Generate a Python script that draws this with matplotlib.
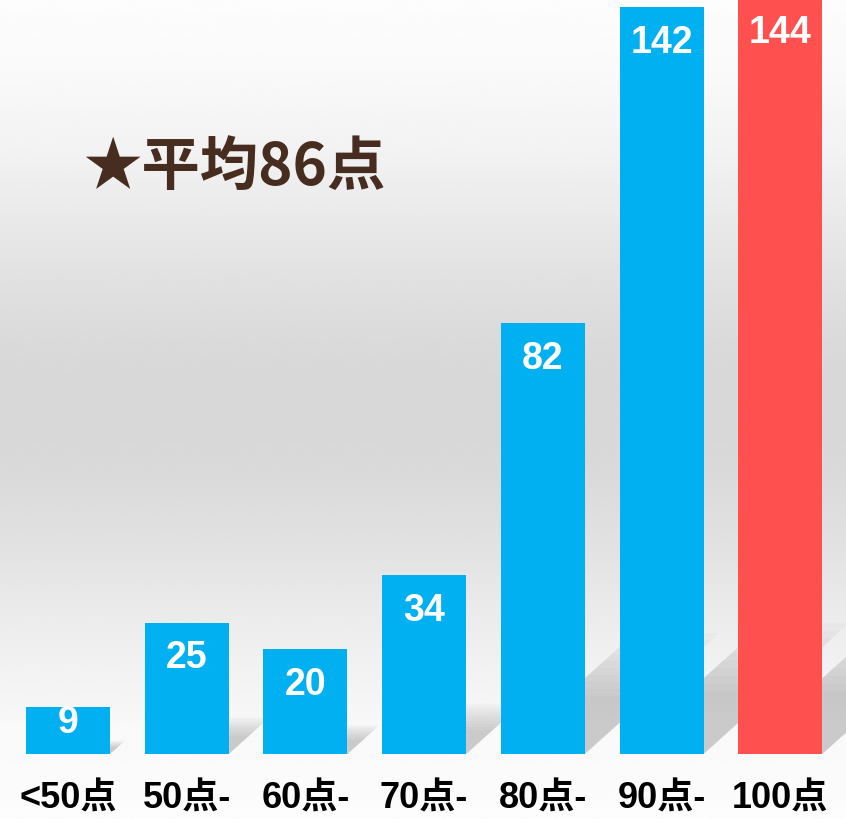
import numpy as np
import matplotlib
matplotlib.use('Agg')
import matplotlib.pyplot as plt
from matplotlib.patches import Polygon

# data
categories = ['<50点', '50点-', '60点-', '70点-', '80点-', '90点-', '100点']
counts = [9, 25, 20, 34, 82, 142, 144]
colors = ['#00b0f0'] * 6 + ['#ff5050']
title = '★平均86点'

W, H = 846, 819
fig = plt.figure(figsize=(W / 100, H / 100), dpi=100)

# background gradient: white top, grey middle, light bottom
bg = fig.add_axes([0, 0, 1, 1])
yy = np.linspace(0, 1, 400)
shade = 1 - 0.155 * np.exp(-((yy - 0.50) / 0.30) ** 2)
shade[yy > 0.88] = np.maximum(shade[yy > 0.88], 0.98)
bg.imshow(np.tile(shade[:, None], (1, 2)), cmap='gray', vmin=0, vmax=1,
          aspect='auto', extent=[0, 1, 1, 0], interpolation='bicubic')
bg.set_axis_off()

base_px = 754
px_x = 118.7   # pixels per category
px_y = 5.26    # pixels per count
ax = fig.add_axes([0, (H - base_px) / H, 1, base_px / H])
ax.patch.set_alpha(0)
x = np.arange(len(categories))
ax.set_xlim(-68 / px_x, (W - 68) / px_x)
ax.set_ylim(0, base_px / px_y)
width = 84 / px_x

# soft diagonal shadows cast up-right behind each bar
for xi, c in zip(x, counts):
    hpx = c * px_y
    L = min(0.3 * hpx, 140)
    left = xi - width / 2
    for k in range(10):
        Lk = L * (0.5 + 0.06 * k)
        dx, dy = Lk / px_x, Lk * 0.9 / px_y
        poly = Polygon([(left, 0), (left + width, 0),
                        (left + width + dx, dy), (left + dx, dy)],
                       closed=True, color='#909090', alpha=0.05, lw=0, zorder=1)
        ax.add_patch(poly)

ax.bar(x, counts, width=width, color=colors, zorder=2)

for xi, c in zip(x, counts):
    hpx = c * px_y
    yc = c - min(36, hpx / 3 + 1) / px_y
    ax.text(xi, yc, str(c), ha='center', va='center', color='white',
            fontsize=27, fontweight='bold', family=['Liberation Sans', 'DejaVu Sans'],
            zorder=3)

ax.set_axis_off()

for xi, lab in zip(x, categories):
    fig.text((68 + px_x * xi) / W, 1 - 799 / H, lab, ha='center', va='center',
             fontsize=26, fontweight='bold', color='black',
             family=['Liberation Sans', 'Noto Sans CJK JP'])

fig.text(235 / W, 1 - 168 / H, title, ha='center', va='center', fontsize=42,
         fontweight='bold', color='#472d1f',
         family=['Noto Sans CJK JP', 'DejaVu Sans'])

fig.savefig('out.png', dpi=100)
